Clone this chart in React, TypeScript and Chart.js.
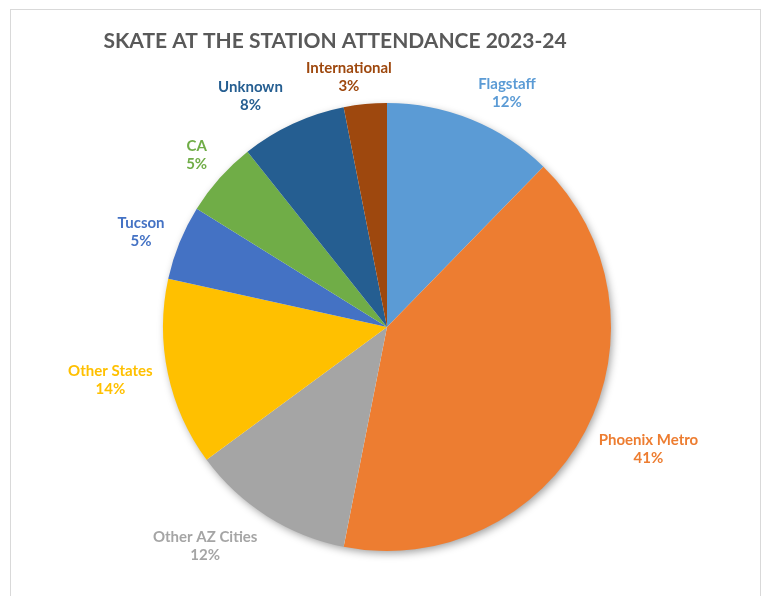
import { useEffect, useRef } from "react";
import { Chart, registerables } from "chart.js";

Chart.register(...registerables);

const categories = [
  "Flagstaff",
  "Phoenix Metro",
  "Other AZ Cities",
  "Other States",
  "Tucson",
  "CA",
  "Unknown",
  "International",
];
const shares = [12.3, 40.8, 11.8, 13.55, 5.4, 5.45, 7.6, 3.1];
const colors = ["#5B9BD5", "#ED7D31", "#A5A5A5", "#FFC000", "#4472C4", "#70AD47", "#255E91", "#9E480E"];
const titleText = "SKATE AT THE STATION ATTENDANCE 2023-24";

// label placement relative to each slice (angle nudge in degrees, distance as multiple of radius)
const labelAngleShift = [5, -2.7, 7.3, 1, -1, 0.35, -5.8, -3.1];
const labelRadius = [1.174, 1.288, 1.271, 1.258, 1.177, 1.144, 1.196, 1.127];

const LABEL_FONT = "bold 15px Lato";
const TITLE_FONT = "bold 21px Lato";

const decorPlugin = {
  id: "decor",
  beforeDraw(chart: any) {
    const ctx = chart.ctx;
    ctx.save();
    ctx.fillStyle = "#ffffff";
    ctx.fillRect(0, 0, chart.width, chart.height);
    ctx.strokeStyle = "#D9D9D9";
    ctx.lineWidth = 1;
    ctx.strokeRect(10.5, 9.5, 750, chart.height + 10);
    ctx.fillStyle = "#595959";
    ctx.font = TITLE_FONT;
    ctx.textAlign = "center";
    ctx.textBaseline = "middle";
    ctx.fillText(titleText, 335, 41);
    ctx.restore();
  },
  beforeDatasetsDraw(chart: any) {
    const meta = chart.getDatasetMeta(0);
    if (!meta.data.length) return;
    const { x, y, outerRadius } = meta.data[0].getProps(["x", "y", "outerRadius"], true);
    const ctx = chart.ctx;
    ctx.save();
    ctx.shadowColor = "rgba(0,0,0,0.4)";
    ctx.shadowBlur = 8;
    ctx.shadowOffsetX = 2;
    ctx.shadowOffsetY = 3;
    ctx.beginPath();
    ctx.arc(x, y, outerRadius - 1, 0, Math.PI * 2);
    ctx.fillStyle = "#ffffff";
    ctx.fill();
    ctx.restore();
  },
  afterDatasetsDraw(chart: any) {
    const meta = chart.getDatasetMeta(0);
    const ctx = chart.ctx;
    const data = chart.data.datasets[0].data as number[];
    const total = data.reduce((a, b) => a + b, 0);
    ctx.save();
    ctx.font = LABEL_FONT;
    ctx.textAlign = "center";
    ctx.textBaseline = "middle";
    meta.data.forEach((el: any, i: number) => {
      const { x, y, startAngle, endAngle, outerRadius } = el.getProps(
        ["x", "y", "startAngle", "endAngle", "outerRadius"],
        true
      );
      const mid = (startAngle + endAngle) / 2 + (labelAngleShift[i] * Math.PI) / 180;
      const d = outerRadius * labelRadius[i];
      const px = x + Math.cos(mid) * d;
      const py = y + Math.sin(mid) * d;
      ctx.fillStyle = colors[i];
      ctx.fillText(String(chart.data.labels[i]), px, py - 9);
      ctx.fillText(Math.round((data[i] / total) * 100) + "%", px, py + 9);
    });
    ctx.restore();
  },
};

export default function App() {
  const canvasRef = useRef<HTMLCanvasElement | null>(null);

  useEffect(() => {
    if (!canvasRef.current) return;
    const chart = new Chart(canvasRef.current, {
      type: "pie",
      data: {
        labels: categories,
        datasets: [
          {
            data: shares,
            backgroundColor: colors,
            borderWidth: 0,
            hoverOffset: 0,
          },
        ],
      },
      options: {
        animation: false,
        responsive: true,
        maintainAspectRatio: false,
        events: [],
        layout: { padding: { top: 103, bottom: 45, left: 137, right: 129 } },
        plugins: {
          legend: { display: false },
          tooltip: { enabled: false },
          title: { display: false },
        },
      },
      plugins: [decorPlugin],
    });
    return () => chart.destroy();
  }, []);

  return (
    <div style={{ position: "fixed", left: 0, top: 0, width: 766, height: 596, background: "#fff" }}>
      <canvas ref={canvasRef} />
    </div>
  );
}
